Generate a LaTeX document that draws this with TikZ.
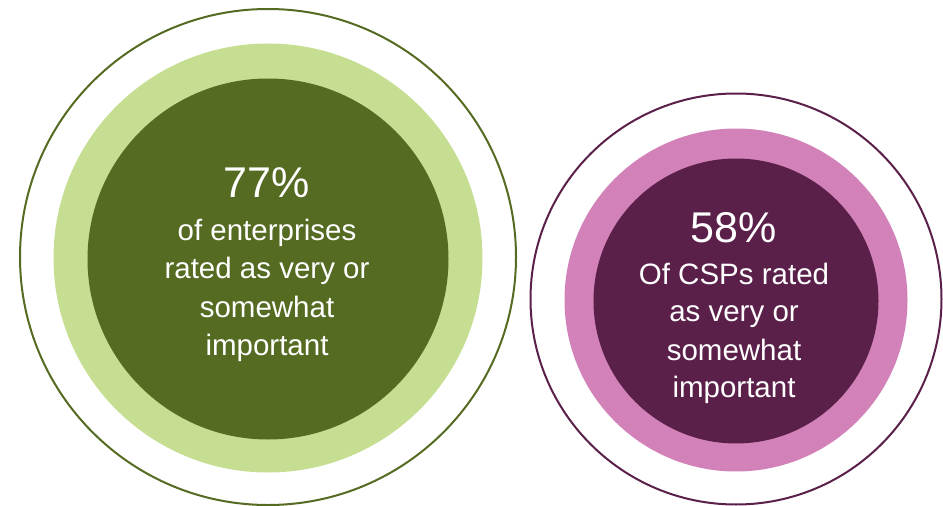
\documentclass[tikz,border=0pt]{standalone}
\usepackage{fontspec}
\setmainfont{Liberation Sans}
\definecolor{gdark}{RGB}{85,107,33}
\definecolor{glight}{RGB}{198,222,145}
\definecolor{pdark}{RGB}{90,32,73}
\definecolor{plight}{RGB}{210,130,184}
\tikzset{
  ring/.style={circle, draw, line width=2pt, fill=white, inner sep=0pt},
  disc/.style={circle, inner sep=0pt},
  pct/.style={text=white, anchor=base, inner sep=0pt, font=\fontsize{43}{50}\selectfont},
  desc/.style={text=white, anchor=base, inner sep=0pt, font=\fontsize{29.5}{38}\selectfont}
}
\begin{document}
\begin{tikzpicture}[x=1pt,y=-1pt]
\useasboundingbox (0,0) rectangle (943,506);
% left group
\node[ring, draw=gdark, minimum size=496pt] (lo) at (268,257) {};
\node[disc, fill=glight, minimum size=429pt] (lm) at (268,258) {};
\node[disc, fill=gdark, minimum size=361pt] (li) at (268,259) {};
\node[pct] (l0) at (267,197) {77\%};
\node[desc] (l1) at (267,240) {of enterprises};
\node[desc] (l2) at (267,278) {rated as very or};
\node[desc] (l3) at (267,317) {somewhat};
\node[desc] (l4) at (267,355) {important};
% right group
\node[ring, draw=pdark, minimum size=411pt] (ro) at (736,299) {};
\node[disc, fill=plight, minimum size=343pt] (rm) at (736,300) {};
\node[disc, fill=pdark, minimum size=285pt] (ri) at (736,301) {};
\node[pct] (r0) at (734,242) {58\%};
\node[desc] (r1) at (734,284) {Of CSPs rated};
\node[desc] (r2) at (734,321) {as very or};
\node[desc] (r3) at (734,360) {somewhat};
\node[desc] (r4) at (734,397) {important};
\end{tikzpicture}
\end{document}
